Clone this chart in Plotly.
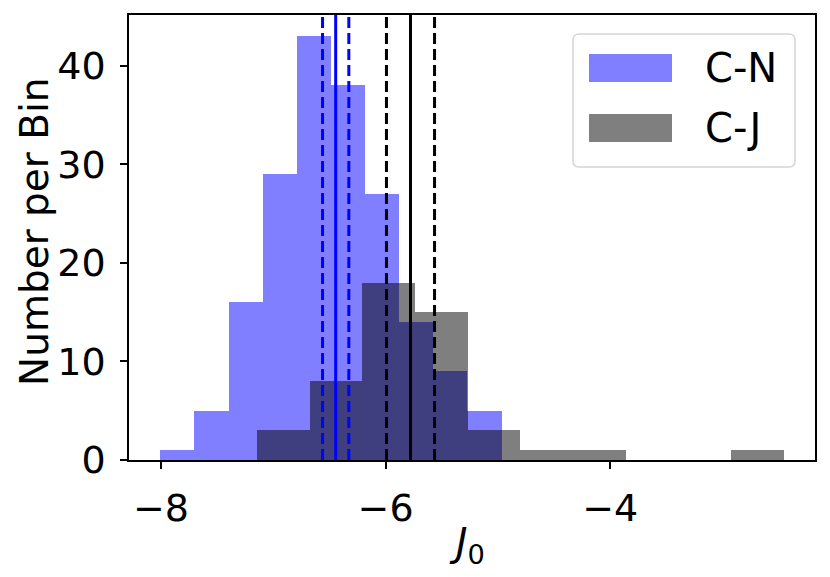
import numpy as np
import plotly.graph_objects as go

# ── Histogram data (counts per bin) ──────────────────────────────────────────
CN_COUNTS = [1, 5, 16, 29, 43, 38, 27, 14, 9, 5]
CN_RANGE = (-8.006, -4.967)
CJ_COUNTS = [3, 8, 18, 15, 3, 1, 1, 0, 0, 1]
CJ_RANGE = (-7.143, -2.455)

# mean and +/- spread marked with vertical lines
CN_MEAN, CN_ERR = -6.444, 0.117
CJ_MEAN, CJ_ERR = -5.778, 0.214

X_TICKS = [-8, -6, -4]
Y_TICKS = [0, 10, 20, 30, 40]

BLUE = "rgba(0,0,255,0.5)"
GREY = "rgba(0,0,0,0.5)"
FONT = "DejaVu Sans"

# the page body has an 8px margin, so the figure is shrunk by that much
OFF = 8
W, H = 822, 569
M = dict(l=121, r=15, t=7, b=117)


def bins(counts, rng):
    edges = np.linspace(rng[0], rng[1], len(counts) + 1)
    return (edges[:-1] + edges[1:]) / 2, edges[1] - edges[0]


def px_x(px):
    # page pixel -> paper x
    return (px - OFF - M["l"]) / (W - M["l"] - M["r"])


def px_y(py):
    # page pixel -> paper y
    return (OFF + H - M["b"] - py) / (H - M["t"] - M["b"])


fig = go.Figure()
for counts, rng, col, name in [(CN_COUNTS, CN_RANGE, BLUE, "C-N"),
                               (CJ_COUNTS, CJ_RANGE, GREY, "C-J")]:
    centers, width = bins(counts, rng)
    fig.add_trace(go.Bar(x=centers, y=counts, width=width, name=name,
                         marker=dict(color=col, line=dict(width=0)),
                         showlegend=False))

for mean, err, col in [(CN_MEAN, CN_ERR, "blue"), (CJ_MEAN, CJ_ERR, "black")]:
    fig.add_vline(x=mean, line=dict(color=col, width=3))
    for x in (mean - err, mean + err):
        fig.add_vline(x=x, line=dict(color=col, width=3, dash="11px,5px"))

# ── Legend drawn by hand (matplotlib-style large patches) ────────────────────
x0, x1, y0, y1, r = 573, 795, 34, 167, 6
path = (f"M {px_x(x0 + r)},{px_y(y0)} L {px_x(x1 - r)},{px_y(y0)} "
        f"Q {px_x(x1)},{px_y(y0)} {px_x(x1)},{px_y(y0 + r)} "
        f"L {px_x(x1)},{px_y(y1 - r)} Q {px_x(x1)},{px_y(y1)} {px_x(x1 - r)},{px_y(y1)} "
        f"L {px_x(x0 + r)},{px_y(y1)} Q {px_x(x0)},{px_y(y1)} {px_x(x0)},{px_y(y1 - r)} "
        f"L {px_x(x0)},{px_y(y0 + r)} Q {px_x(x0)},{px_y(y0)} {px_x(x0 + r)},{px_y(y0)} Z")
fig.add_shape(type="path", path=path, xref="paper", yref="paper",
              fillcolor="rgba(255,255,255,0.8)", line=dict(color="#d5d5d5", width=1.5))
for name, col, top in [("C-N", BLUE, 54), ("C-J", GREY, 114)]:
    fig.add_shape(type="rect", xref="paper", yref="paper",
                  x0=px_x(589), x1=px_x(672), y0=px_y(top), y1=px_y(top + 28),
                  fillcolor=col, line=dict(width=0))
    fig.add_annotation(x=px_x(703), y=px_y(top + 14), xref="paper", yref="paper",
                       text=name, showarrow=False, xanchor="left", yanchor="middle",
                       font=dict(family=FONT, size=40, color="black"))

# ── Axis titles ───────────────────────────────────────────────────────────────
fig.add_annotation(x=px_x(467), y=px_y(545), xref="paper", yref="paper",
                   text="<i>J</i><sub>0</sub>", showarrow=False,
                   xanchor="center", yanchor="middle",
                   font=dict(family=FONT, size=39, color="black"))
fig.add_annotation(x=px_x(34), y=px_y(232), xref="paper", yref="paper",
                   text="Number per Bin", showarrow=False, textangle=-90,
                   xanchor="center", yanchor="middle",
                   font=dict(family=FONT, size=39, color="black"))

axis = dict(showline=True, mirror=True, linecolor="black", linewidth=1.6,
            ticks="outside", ticklen=7, tickwidth=1.6, tickcolor="black",
            showgrid=False, zeroline=False, ticklabelstandoff=7, automargin=False,
            tickfont=dict(family=FONT, size=38, color="black"))

fig.update_layout(
    width=W, height=H, margin=M,
    plot_bgcolor="white", paper_bgcolor="white",
    barmode="overlay", bargap=0,
    xaxis=dict(axis, range=[-8.284, -2.177], tickvals=X_TICKS),
    yaxis=dict(axis, range=[0, 45.15], tickvals=Y_TICKS),
)

fig.write_html("out.html")
